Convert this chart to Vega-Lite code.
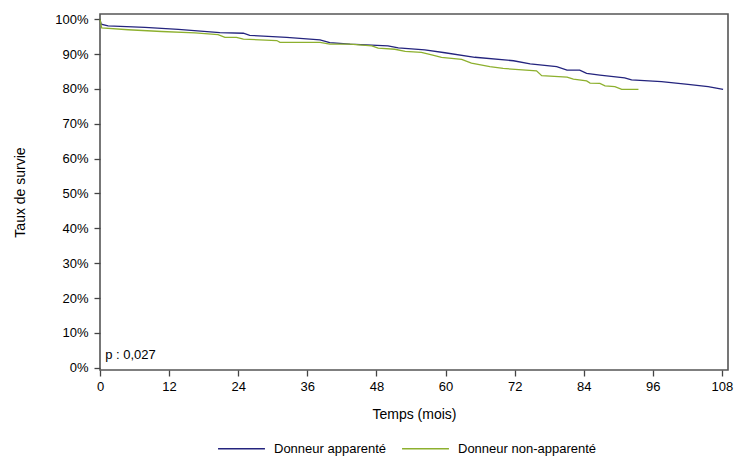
{
  "$schema": "https://vega.github.io/schema/vega-lite/v6.json",
  "autosize": {"type": "none"},
  "padding": {"left": 100, "top": 14, "right": 17, "bottom": 96},
  "width": 628,
  "height": 356,
  "background": "white",
  "config": {
    "font": "Liberation Sans",
    "view": {"stroke": "#555555", "strokeWidth": 1.6},
    "axis": {
      "domain": false,
      "grid": false,
      "tickColor": "#444444",
      "tickSize": 6,
      "tickWidth": 1.3,
      "labelOverlap": false,
      "labelFlush": false,
      "labelFont": "Liberation Sans",
      "labelFontSize": 13,
      "labelColor": "black",
      "titleFont": "Liberation Sans",
      "titleFontSize": 14,
      "titleFontWeight": "normal",
      "titleColor": "black"
    }
  },
  "datasets": {
    "survie": [
      {"groupe": "Donneur apparenté", "mois": 0, "taux": 1.0},
      {"groupe": "Donneur apparenté", "mois": 0.2, "taux": 0.986},
      {"groupe": "Donneur apparenté", "mois": 1.4, "taux": 0.981},
      {"groupe": "Donneur apparenté", "mois": 7.8, "taux": 0.977},
      {"groupe": "Donneur apparenté", "mois": 13.6, "taux": 0.971},
      {"groupe": "Donneur apparenté", "mois": 20.8, "taux": 0.962},
      {"groupe": "Donneur apparenté", "mois": 24.9, "taux": 0.96},
      {"groupe": "Donneur apparenté", "mois": 26, "taux": 0.954},
      {"groupe": "Donneur apparenté", "mois": 32.4, "taux": 0.948},
      {"groupe": "Donneur apparenté", "mois": 38.2, "taux": 0.941},
      {"groupe": "Donneur apparenté", "mois": 39.9, "taux": 0.933},
      {"groupe": "Donneur apparenté", "mois": 43.4, "taux": 0.929},
      {"groupe": "Donneur apparenté", "mois": 50, "taux": 0.924},
      {"groupe": "Donneur apparenté", "mois": 51.8, "taux": 0.918},
      {"groupe": "Donneur apparenté", "mois": 56.4, "taux": 0.912},
      {"groupe": "Donneur apparenté", "mois": 59.9, "taux": 0.904},
      {"groupe": "Donneur apparenté", "mois": 65.1, "taux": 0.891},
      {"groupe": "Donneur apparenté", "mois": 71.8, "taux": 0.881},
      {"groupe": "Donneur apparenté", "mois": 74.7, "taux": 0.872},
      {"groupe": "Donneur apparenté", "mois": 79.3, "taux": 0.864},
      {"groupe": "Donneur apparenté", "mois": 81.1, "taux": 0.854},
      {"groupe": "Donneur apparenté", "mois": 83.3, "taux": 0.854},
      {"groupe": "Donneur apparenté", "mois": 84.5, "taux": 0.845},
      {"groupe": "Donneur apparenté", "mois": 86.8, "taux": 0.84},
      {"groupe": "Donneur apparenté", "mois": 91.1, "taux": 0.832},
      {"groupe": "Donneur apparenté", "mois": 92.3, "taux": 0.826},
      {"groupe": "Donneur apparenté", "mois": 97.5, "taux": 0.821},
      {"groupe": "Donneur apparenté", "mois": 102.1, "taux": 0.813},
      {"groupe": "Donneur apparenté", "mois": 105.6, "taux": 0.807},
      {"groupe": "Donneur apparenté", "mois": 108.2, "taux": 0.799},
      {"groupe": "Donneur non-apparenté", "mois": 0, "taux": 1.0},
      {"groupe": "Donneur non-apparenté", "mois": 0.3, "taux": 0.975},
      {"groupe": "Donneur non-apparenté", "mois": 4.9, "taux": 0.97},
      {"groupe": "Donneur non-apparenté", "mois": 10.7, "taux": 0.965},
      {"groupe": "Donneur non-apparenté", "mois": 16.5, "taux": 0.961},
      {"groupe": "Donneur non-apparenté", "mois": 20.5, "taux": 0.956},
      {"groupe": "Donneur non-apparenté", "mois": 21.7, "taux": 0.948},
      {"groupe": "Donneur non-apparenté", "mois": 23.7, "taux": 0.948},
      {"groupe": "Donneur non-apparenté", "mois": 24.9, "taux": 0.943},
      {"groupe": "Donneur non-apparenté", "mois": 30.7, "taux": 0.939},
      {"groupe": "Donneur non-apparenté", "mois": 31.25, "taux": 0.934},
      {"groupe": "Donneur non-apparenté", "mois": 38.2, "taux": 0.934},
      {"groupe": "Donneur non-apparenté", "mois": 39.9, "taux": 0.929},
      {"groupe": "Donneur non-apparenté", "mois": 43.4, "taux": 0.929},
      {"groupe": "Donneur non-apparenté", "mois": 47.2, "taux": 0.924},
      {"groupe": "Donneur non-apparenté", "mois": 48.3, "taux": 0.917},
      {"groupe": "Donneur non-apparenté", "mois": 51.2, "taux": 0.914},
      {"groupe": "Donneur non-apparenté", "mois": 53, "taux": 0.908},
      {"groupe": "Donneur non-apparenté", "mois": 55.8, "taux": 0.905},
      {"groupe": "Donneur non-apparenté", "mois": 57.6, "taux": 0.898},
      {"groupe": "Donneur non-apparenté", "mois": 59.3, "taux": 0.891},
      {"groupe": "Donneur non-apparenté", "mois": 62.8, "taux": 0.885},
      {"groupe": "Donneur non-apparenté", "mois": 64.5, "taux": 0.874},
      {"groupe": "Donneur non-apparenté", "mois": 67.7, "taux": 0.864},
      {"groupe": "Donneur non-apparenté", "mois": 70, "taux": 0.859},
      {"groupe": "Donneur non-apparenté", "mois": 75.8, "taux": 0.852},
      {"groupe": "Donneur non-apparenté", "mois": 76.7, "taux": 0.838},
      {"groupe": "Donneur non-apparenté", "mois": 81.1, "taux": 0.834},
      {"groupe": "Donneur non-apparenté", "mois": 82.2, "taux": 0.828},
      {"groupe": "Donneur non-apparenté", "mois": 84.5, "taux": 0.823},
      {"groupe": "Donneur non-apparenté", "mois": 85.1, "taux": 0.817},
      {"groupe": "Donneur non-apparenté", "mois": 86.8, "taux": 0.816},
      {"groupe": "Donneur non-apparenté", "mois": 87.7, "taux": 0.809},
      {"groupe": "Donneur non-apparenté", "mois": 89.4, "taux": 0.807},
      {"groupe": "Donneur non-apparenté", "mois": 90.6, "taux": 0.799},
      {"groupe": "Donneur non-apparenté", "mois": 93.5, "taux": 0.799}
    ]
  },
  "layer": [
    {
      "data": {"name": "survie"},
      "mark": {"type": "line", "strokeWidth": 1.3, "interpolate": "linear"},
      "encoding": {
        "x": {
          "field": "mois",
          "type": "quantitative",
          "scale": {"domain": [0, 109.05], "nice": false, "zero": false},
          "axis": {
            "values": [0, 12, 24, 36, 48, 60, 72, 84, 96, 108],
            "tickCount": 12,
            "title": "Temps (mois)",
            "labelFlush": false,
            "labelOverlap": false,
            "labelPadding": 4,
            "titlePadding": 14
          }
        },
        "y": {
          "field": "taux",
          "type": "quantitative",
          "scale": {"domain": [-0.0066, 1.0152], "nice": false, "zero": false},
          "axis": {
            "values": [0, 0.1, 0.2, 0.3, 0.4, 0.5, 0.6, 0.7, 0.8, 0.9, 1],
            "tickCount": 12,
            "format": ".0%",
            "title": "Taux de survie",
            "labelFlush": false,
            "labelOverlap": false,
            "labelPadding": 6,
            "titlePadding": 27
          }
        },
        "color": {
          "field": "groupe",
          "type": "nominal",
          "scale": {
            "domain": ["Donneur apparenté", "Donneur non-apparenté"],
            "range": ["#24247e", "#8db02e"]
          },
          "legend": {
            "orient": "none",
            "legendX": 117,
            "legendY": 410,
            "direction": "horizontal",
            "title": null,
            "symbolType": "stroke",
            "symbolSize": 2200,
            "symbolStrokeWidth": 1.5,
            "labelFont": "Liberation Sans",
            "labelFontSize": 13,
            "labelColor": "black",
            "labelOffset": 8,
            "columnPadding": 12
          }
        }
      }
    },
    {
      "data": {"values": [{"p": "p : 0,027"}]},
      "mark": {"type": "text", "align": "left", "baseline": "middle", "fontSize": 13, "font": "Liberation Sans", "color": "black"},
      "encoding": {
        "x": {"datum": 0.9, "type": "quantitative"},
        "y": {"datum": 0.036, "type": "quantitative"},
        "text": {"field": "p", "type": "nominal"}
      }
    }
  ]
}
